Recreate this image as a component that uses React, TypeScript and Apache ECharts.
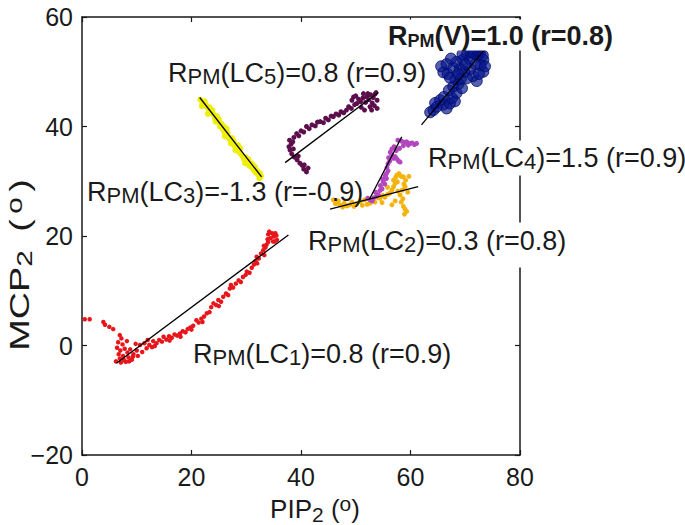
import React, { useEffect, useRef } from "react";
import * as echarts from "echarts";

const FONT = "'Liberation Sans', Arial, Helvetica, sans-serif";
const INK = "#1a1a1a";

const xTickValues = [0, 20, 40, 60, 80];
const yTickValues = [-20, 0, 20, 40, 60];

// LC1 (red)
const lc1Points: number[][] = [
  [0.5, 4.8], [1.4, 4.8], [3.9, 4.3], [4.2, 3.8], [5.0, 3.4], [5.7, 3.0], [6.9, 1.9], [7.2, 1.3], [6.6, 0.6], [7.4, 0.2],
  [8.2, 0.8], [6.4, -0.4], [7.0, -0.9], [7.8, -0.6], [6.7, -1.6], [7.5, -1.9], [8.3, -1.3], [6.9, -2.4], [7.7, -2.7], [8.5, -2.2],
  [9.1, -2.6], [8.0, -3.0], [6.2, -2.9], [7.1, -3.1], [8.6, -2.9], [9.3, -2.0], [9.4, -1.6], [8.8, -0.7], [9.8, 0.3], [10.0, -0.9],
  [10.6, 0.1], [10.2, -1.9], [11.0, -1.2], [11.8, -0.5], [11.4, 0.4], [12.0, 1.0], [12.3, 0.1], [12.8, -0.3], [13.3, -0.1], [13.0, 0.8],
  [13.6, 0.4], [14.1, 1.0], [14.6, 0.7], [14.9, 1.6], [15.4, 1.1], [15.9, 1.7], [16.0, 0.9], [16.4, 1.4], [16.9, 2.0], [17.4, 1.8],
  [17.9, 2.2], [18.0, 1.6], [18.4, 2.6], [18.9, 2.4], [19.3, 3.0], [19.8, 3.3], [20.0, 2.9], [20.3, 3.6], [20.9, 4.6], [21.3, 4.2],
  [21.8, 4.9], [22.0, 4.3], [22.3, 5.3], [22.8, 5.9], [23.3, 6.1], [23.6, 7.0], [24.0, 7.7], [24.5, 7.4], [24.9, 8.3], [25.0, 7.2],
  [25.4, 8.0], [25.8, 8.9], [26.3, 9.5], [26.7, 9.2], [27.0, 10.4], [27.2, 11.05], [27.6, 10.6], [28.1, 11.3], [28.6, 11.9], [29.0, 11.6],
  [29.4, 12.5], [29.9, 12.9], [30.1, 13.5], [30.6, 13.3], [31.0, 14.2], [31.4, 14.8], [31.7, 15.4], [31.9, 16.2], [32.3, 15.9], [32.7, 16.8],
  [33.1, 17.4], [33.3, 16.5], [33.5, 17.9], [33.7, 18.4], [33.9, 19.4], [34.0, 18.9], [34.0, 20.3], [34.4, 19.6], [34.7, 20.5], [34.9, 19.0],
  [35.0, 19.9], [35.2, 19.0], [35.3, 20.5], [35.6, 19.3], [34.2, 20.8], [35.5, 20.1], [33.2, 18.2], [32.0, 15.0],
];

// LC3 (yellow)
const lc3Points: number[][] = [
  [21.6, 44.9], [22.0, 44.2], [22.4, 44.6], [21.9, 43.7], [22.8, 43.6], [23.2, 43.0], [23.6, 42.6], [23.3, 43.5], [23.0, 42.3], [24.0, 42.2],
  [24.3, 41.4], [24.6, 41.9], [24.4, 40.9], [24.9, 40.8], [25.2, 40.0], [25.5, 40.5], [25.7, 39.5], [26.0, 39.0], [26.1, 38.2], [26.3, 38.6],
  [26.6, 38.9], [26.8, 37.9], [27.1, 37.5], [27.2, 36.9], [27.4, 37.9], [27.6, 36.8], [27.9, 36.4], [28.0, 35.7], [28.3, 36.0], [28.5, 36.6],
  [28.7, 35.3], [29.0, 35.0], [29.3, 34.6], [29.6, 34.0], [29.8, 33.3], [29.9, 34.4], [30.1, 33.9], [30.3, 33.2], [30.6, 32.8], [30.9, 33.3],
  [31.1, 32.4], [31.2, 33.0], [31.4, 32.0], [31.7, 31.6], [32.0, 31.9], [32.2, 31.2], [32.5, 31.45], [32.7, 30.9],
  [22.6, 44.0], [23.8, 43.0], [25.0, 41.3], [26.4, 39.6], [27.7, 37.4], [28.9, 36.0], [30.4, 34.0], [31.6, 32.6], [32.4, 30.5], [25.9, 40.0],
];

// LC5 (dark purple)
const lc5Points: number[][] = [
  [41.0, 31.7], [40.5, 32.2], [41.3, 32.4], [40.2, 32.9], [39.8, 33.3], [40.6, 33.0], [39.3, 33.9], [38.8, 34.4], [39.5, 34.6], [38.3, 35.0],
  [38.0, 35.7], [38.6, 35.9], [37.8, 36.3], [38.2, 36.8], [37.9, 37.5], [38.5, 37.2], [38.7, 38.0], [39.2, 38.7], [39.6, 38.3], [40.0, 39.2],
  [40.5, 39.0], [41.0, 40.0], [41.5, 39.6], [42.0, 40.3], [42.6, 40.1], [43.0, 40.8], [43.5, 40.9], [44.1, 40.7], [44.5, 41.5], [45.0, 41.2],
  [45.5, 41.9], [45.9, 41.8], [46.4, 42.3], [46.9, 42.1], [47.3, 42.7], [47.8, 42.5], [48.3, 43.0], [48.7, 43.6], [49.2, 43.3], [49.3, 44.8],
  [49.6, 45.4], [49.8, 44.0], [50.0, 45.6], [50.2, 44.2], [50.5, 45.0], [50.9, 44.5], [51.0, 43.5], [51.3, 45.2], [51.4, 46.0], [51.6, 43.0],
  [51.8, 44.4], [52.0, 45.4], [52.2, 46.0], [52.4, 44.9], [52.6, 43.6], [52.7, 45.8], [52.9, 43.0], [53.0, 44.3], [53.2, 45.3], [53.4, 43.8],
  [53.5, 45.9], [53.7, 46.2], [53.9, 44.8], [53.9, 43.3],
];

// LC2 (orange)
const lc2Points: number[][] = [
  [45.9, 26.6], [46.3, 25.9], [46.8, 26.4], [47.1, 25.7], [47.6, 25.3], [47.9, 26.0], [48.4, 25.5], [48.9, 25.7], [49.3, 26.2], [49.7, 25.4],
  [50.2, 25.9], [50.8, 26.3], [51.2, 25.6], [51.6, 26.6], [52.1, 25.8], [52.6, 26.0], [53.0, 26.5], [53.5, 26.2], [54.0, 27.0], [54.4, 26.9],
  [54.8, 26.1], [54.9, 27.4], [55.3, 27.1], [55.8, 27.6], [55.8, 28.9], [56.2, 27.8], [56.6, 25.7], [56.6, 28.4], [56.9, 29.0], [57.2, 26.4],
  [57.2, 29.6], [56.9, 30.2], [57.3, 30.7], [57.5, 31.1], [57.6, 29.9], [57.7, 28.2], [57.9, 31.4], [58.3, 30.9], [58.7, 30.8], [59.1, 30.2],
  [58.8, 29.5], [59.0, 29.0], [58.5, 28.4], [58.1, 27.5], [58.6, 26.8], [58.3, 26.2], [58.7, 25.4], [59.0, 24.9], [59.3, 24.5], [58.9, 24.0],
  [59.5, 28.0], [59.7, 30.9],
];

// LC4 (magenta)
const lc4Points: number[][] = [
  [52.2, 26.9], [52.6, 26.6], [53.0, 26.4], [53.3, 27.0], [53.8, 27.3], [54.1, 27.5], [53.6, 28.0], [54.4, 28.3], [54.8, 28.6], [54.5, 29.2],
  [55.0, 29.9], [54.9, 30.4], [55.3, 29.5], [55.6, 30.5], [55.4, 31.0], [55.6, 31.4], [55.9, 31.9], [55.7, 32.5], [55.9, 33.2], [56.2, 33.7],
  [56.0, 34.3], [56.3, 35.3], [56.6, 34.8], [56.9, 34.2], [57.2, 34.5], [57.5, 34.1], [57.8, 33.7], [58.1, 33.5], [56.6, 35.9], [57.0, 36.3],
  [57.4, 35.6], [58.0, 36.0], [58.7, 36.5], [59.0, 37.1], [59.3, 37.2], [59.6, 36.6], [59.9, 36.9], [60.3, 37.0], [60.7, 36.7], [61.1, 36.9],
  [58.4, 37.3], [57.7, 37.5],
];

// V (blue open circles)
const vPoints: number[][] = [
  [63.6, 42.6], [64.2, 43.0], [64.8, 43.6], [65.4, 44.8], [64.5, 44.3], [66.0, 44.0], [66.6, 43.3], [67.2, 44.2], [66.1, 45.4], [67.6, 45.2],
  [68.1, 44.6], [68.4, 46.1], [67.8, 47.3], [67.0, 46.6], [68.8, 47.8], [69.4, 47.0], [68.2, 48.6], [66.0, 49.9], [65.6, 51.0], [66.8, 49.6],
  [67.2, 48.9], [66.6, 51.4], [67.8, 50.7], [69.0, 50.5], [68.4, 51.8], [69.6, 52.2], [70.3, 53.2], [70.8, 52.4], [71.5, 53.4], [72.2, 53.0],
  [72.7, 53.3], [73.3, 52.2], [73.3, 50.0], [72.8, 51.2], [72.1, 48.3], [71.4, 49.2], [70.3, 48.8], [70.9, 50.5], [71.8, 51.4], [69.8, 50.0],
  [69.2, 48.7], [72.5, 49.6], [73.6, 51.0], [70.0, 51.4], [68.7, 49.6], [71.0, 53.6], [72.4, 53.6], [69.5, 53.2], [67.4, 52.4], [73.2, 53.0],
];

// regression lines (endpoints)
const fitLC1 = [[6.3, -3.25], [37.7, 20.2]];
const fitLC3 = [[21.5, 45.3], [32.8, 30.8]];
const fitLC5 = [[37.1, 33.4], [54.1, 46.2]];
const fitLC4 = [[52.5, 26.7], [58.4, 38.1]];
const fitLC2 = [[45.3, 24.9], [61.4, 29.0]];
const fitV = [[62.0, 40.3], [74.0, 54.6]];

// annotation texts
const labelV = { sub: "V", val: "1.0", r: "0.8" };
const labelLC5 = { sub: "5", val: "0.8", r: "0.9" };
const labelLC4 = { sub: "4", val: "1.5", r: "0.9" };
const labelLC3 = { sub: "3", val: "-1.3", r: "-0.9" };
const labelLC2 = { sub: "2", val: "0.3", r: "0.8" };
const labelLC1 = { sub: "1", val: "0.8", r: "0.9" };

const COLORS = {
  lc1: "#e8161b",
  lc3: "#eeee08",
  lc5: "#5c0f4c",
  lc2: "#f4b30e",
  lc4: "#b446c0",
  v: "#000c6a",
};

const regRich = {
  m: { fontSize: 27, fontFamily: FONT, lineHeight: 30 },
  s: { fontSize: 22, fontFamily: FONT, lineHeight: 20, verticalAlign: "bottom" },
};
const boldRich = {
  m: { fontSize: 27, fontFamily: FONT, fontWeight: "bold", lineHeight: 28 },
  s: { fontSize: 18, fontFamily: FONT, fontWeight: "bold", lineHeight: 18, verticalAlign: "bottom" },
};

function lcText(l: { sub: string; val: string; r: string }) {
  return `{m|R}{s|PM}{m|(LC}{s|${l.sub}}{m|)=${l.val} (r=${l.r})}`;
}

function annot(text: string, x: number, baseline: number, bold: boolean, pad: number[] | null) {
  const off = bold ? 23.5 : 24.5;
  const padTop = pad ? pad[0] : 0;
  const style: any = {
    text,
    rich: bold ? boldRich : regRich,
    fill: INK,
    align: "left",
    verticalAlign: "top",
    font: `${bold ? "bold " : ""}27px ${FONT}`,
  };
  if (pad) {
    style.backgroundColor = "#ffffff";
    style.padding = pad;
  }
  return { type: "text", x: x - (pad ? pad[3] : 0), y: baseline - off - padTop, z: 50, silent: true, style };
}

export default function App() {
  const ref = useRef<HTMLDivElement>(null);
  useEffect(() => {
    if (!ref.current) return;
    const chart = echarts.init(ref.current, undefined, { renderer: "svg" });
    const axisLine = { show: true, onZero: false, lineStyle: { color: INK, width: 1.5 } };
    const tick = { show: true, inside: true, length: 5, lineStyle: { color: INK, width: 1.2 } };
    const scatter = (name: string, data: number[][], color: string, size: number) => ({
      name,
      type: "scatter",
      data,
      symbolSize: size,
      itemStyle: { color, opacity: 1 },
      silent: true,
      z: 2,
    });
    const fit = (data: number[][]) => ({
      type: "line",
      data,
      showSymbol: false,
      symbol: "none",
      lineStyle: { color: "#000", width: 1.3 },
      silent: true,
      z: 5,
    });
    chart.setOption({
      animation: false,
      backgroundColor: "#ffffff",
      grid: { left: 82, right: 165, top: 17, bottom: 70, containLabel: false },
      xAxis: [
        {
          type: "value", min: 0, max: 80, interval: 20, position: "bottom",
          axisLine, axisTick: tick, splitLine: { show: false },
          axisLabel: { fontSize: 25, fontFamily: FONT, color: INK, margin: 9,
            formatter: (v: number) => (xTickValues.includes(v) ? String(v) : "") },
        },
        {
          type: "value", min: 0, max: 80, interval: 20, position: "top",
          axisLine, axisTick: tick, splitLine: { show: false }, axisLabel: { show: false },
        },
      ],
      yAxis: [
        {
          type: "value", min: -20, max: 60, interval: 20, position: "left",
          axisLine, axisTick: tick, splitLine: { show: false },
          axisLabel: { fontSize: 25, fontFamily: FONT, color: INK, margin: 9,
            formatter: (v: number) => (yTickValues.includes(v) ? String(v).replace("-", "\u2212") : "") },
        },
        {
          type: "value", min: -20, max: 60, interval: 20, position: "right",
          axisLine, axisTick: tick, splitLine: { show: false }, axisLabel: { show: false },
        },
      ],
      series: [
        scatter("LC1", lc1Points, COLORS.lc1, 4.5),
        scatter("LC3", lc3Points, COLORS.lc3, 6),
        scatter("LC5", lc5Points, COLORS.lc5, 5),
        scatter("LC2", lc2Points, COLORS.lc2, 5),
        scatter("LC4", lc4Points, COLORS.lc4, 5),
        {
          name: "V", type: "scatter", data: vPoints, symbol: "circle", symbolSize: 11,
          itemStyle: { color: "rgba(6,20,140,0.85)", borderColor: COLORS.v, borderWidth: 1 },
          silent: true, z: 3,
        },
        fit(fitLC1), fit(fitLC3), fit(fitLC5), fit(fitLC4), fit(fitLC2), fit(fitV),
      ],
      graphic: [
        annot(`{m|R}{s|PM}{m|(${labelV.sub})=${labelV.val} (r=${labelV.r})}`, 388, 45, true, [2, 2, 1, 2]),
        annot(lcText(labelLC5), 168, 82, false, null),
        annot(lcText(labelLC4), 428, 167, false, [2, 2, 3, 2]),
        annot(lcText(labelLC3), 87, 201, false, null),
        annot(lcText(labelLC2), 308, 250, false, [3, 2, 12, 2]),
        annot(lcText(labelLC1), 193, 363, false, null),
        {
          type: "text", x: 315, y: 518 - 25, z: 50, silent: true,
          style: {
            text: "{m|PIP}{s|2}{m| (}{u|o}{m|)}",
            fill: INK, align: "center", verticalAlign: "top",
            rich: {
              m: { fontSize: 26, fontFamily: FONT, lineHeight: 32 },
              s: { fontSize: 21, fontFamily: FONT, lineHeight: 20, verticalAlign: "bottom" },
              u: { fontSize: 21, fontFamily: FONT, lineHeight: 20, verticalAlign: "top" },
            },
          },
        },
        {
          type: "text", x: 19, y: 265, z: 50, silent: true, rotation: Math.PI / 2, scaleX: 1.35, scaleY: 1,
          style: {
            text: "{m|MCP}{s|2}{m| (}{u|o}{m|)}",
            fill: INK, align: "center", verticalAlign: "middle",
            rich: {
              m: { fontSize: 28, fontFamily: FONT, lineHeight: 32 },
              s: { fontSize: 22, fontFamily: FONT, lineHeight: 20, verticalAlign: "bottom", padding: [0, 6, 0, 0] },
              u: { fontSize: 22, fontFamily: FONT, lineHeight: 20, verticalAlign: "top", padding: [0, 4, 0, 4] },
            },
          },
        },
      ],
    });
    return () => chart.dispose();
  }, []);
  return (
    <div
      ref={ref}
      style={{ position: "fixed", left: 0, top: 0, width: 685, height: 525, background: "#fff" }}
    />
  );
}
